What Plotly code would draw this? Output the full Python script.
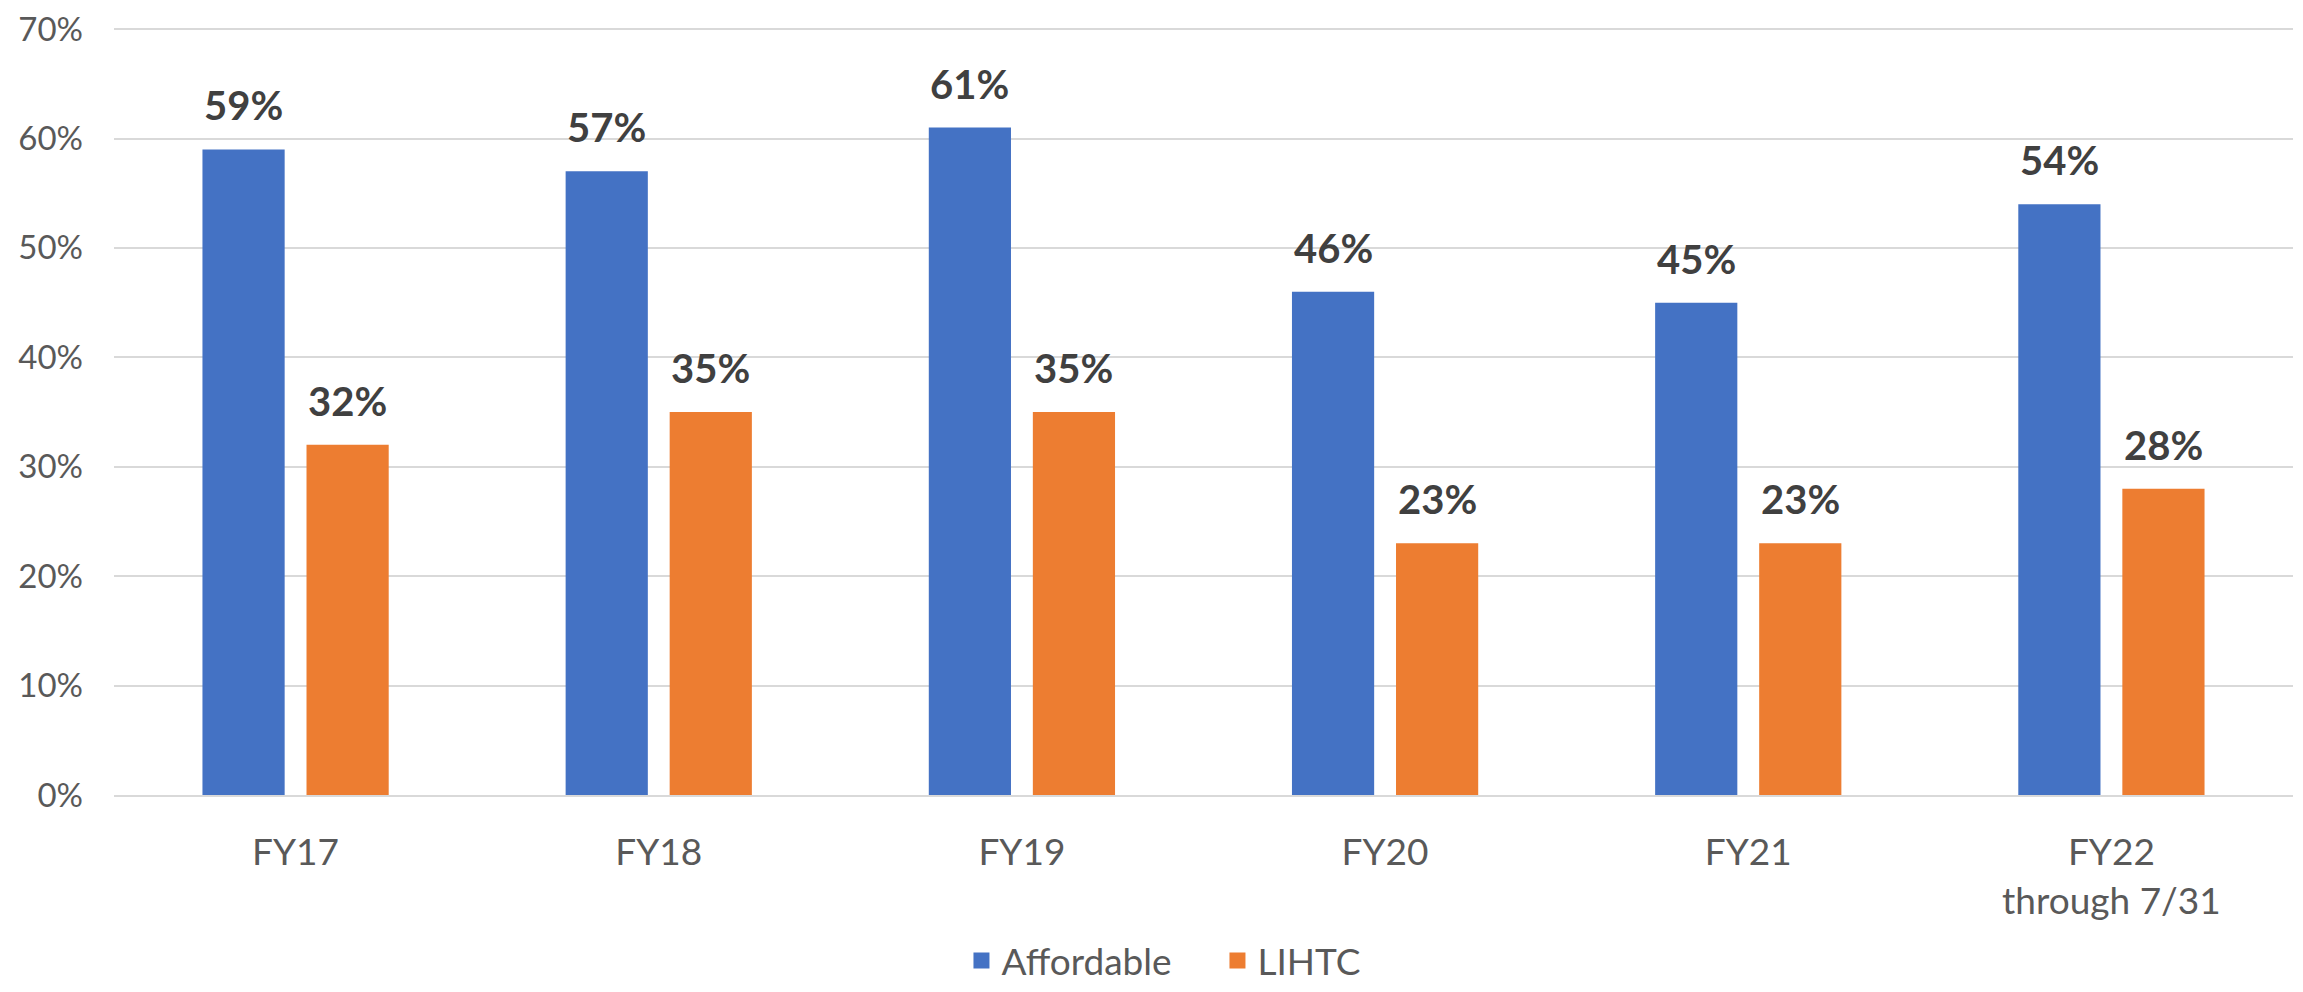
import plotly.graph_objects as go

categories = ["FY17", "FY18", "FY19", "FY20", "FY21", "FY22<br>through 7/31"]
affordable = [59, 57, 61, 46, 45, 54]
lihtc = [32, 35, 35, 23, 23, 28]
series_names = ["Affordable", "LIHTC"]
colors = ["#4472C4", "#ED7D31"]
y_ticks = [0, 10, 20, 30, 40, 50, 60, 70]
y_tick_text = [f"{v}%" for v in y_ticks]

FONT = "Lato"
fig = go.Figure()
for name, vals, col in zip(series_names, [affordable, lihtc], colors):
    fig.add_trace(go.Bar(x=categories, y=vals, name=name, marker_color=col,
                         marker_line_width=0, showlegend=False))
    fig.add_trace(go.Scatter(x=[None], y=[None], mode="markers", name=name,
                             marker=dict(symbol="square", size=23, color=col)))

annotations = []
for vals, shift in [(affordable, -52), (lihtc, 52)]:
    for c, v in zip(categories, vals):
        annotations.append(dict(x=c, y=v, xref="x", yref="y", text=f"<b>{v}%</b>",
                                showarrow=False, xanchor="center", yanchor="bottom",
                                xshift=shift, yshift=18,
                                font=dict(family=FONT, size=40, color="#404040")))

fig.update_layout(
    width=2295, height=984,
    margin=dict(l=106, r=10, t=20, b=197, autoexpand=False),
    paper_bgcolor="white", plot_bgcolor="white",
    barmode="group", bargap=0.427, bargroupgap=0.21,
    font=dict(family=FONT, size=37, color="#595959"),
    annotations=annotations,
    legend=dict(orientation="h", xref="container", yref="container",
                x=0.527, xanchor="center", y=0.0, yanchor="bottom",
                entrywidth=211, entrywidthmode="pixels",
                font=dict(family=FONT, size=37, color="#595959")),
    xaxis=dict(showgrid=False, showline=True, linecolor="#d9d9d9", linewidth=2,
               ticks="", ticklabelstandoff=24, automargin=False),
    yaxis=dict(range=[0, 70.1], tickmode="array", tickvals=y_ticks, ticktext=y_tick_text,
               showgrid=True, gridcolor="#d9d9d9", gridwidth=2, zeroline=False,
               showline=False, ticks="", ticklabelstandoff=30, automargin=False,
               ticklabeloverflow="allow", tickfont=dict(size=33)),
)
fig.write_html("out.html")
